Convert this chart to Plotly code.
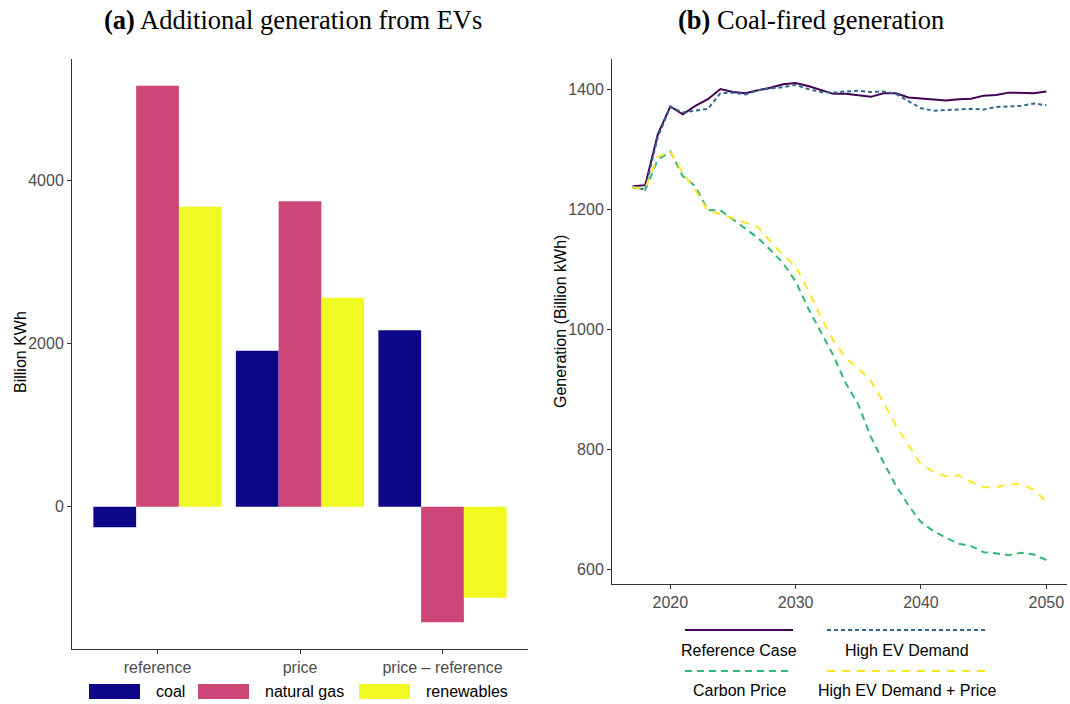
import plotly.graph_objects as go

# ---------------- data ----------------
categories = ["reference", "price", "price \u2013 reference"]
coal = [-249, 1914, 2163]
natural_gas = [5159, 3745, -1414]
renewables = [3677, 2563, -1114]

years = list(range(2017, 2051))
reference_case = [1238, 1240, 1324, 1371, 1358, 1372, 1383, 1400, 1395, 1393, 1398, 1402, 1408, 1410,
                  1405, 1399, 1392, 1392, 1389, 1387, 1393, 1393, 1386, 1384, 1382, 1381, 1383, 1384,
                  1389, 1390, 1394, 1393, 1393, 1396]
high_ev_demand = [1236, 1233, 1320, 1370, 1361, 1364, 1367, 1393, 1394, 1391, 1398, 1401, 1403, 1407,
                  1400, 1395, 1394, 1396, 1397, 1395, 1396, 1392, 1380, 1368, 1364, 1365, 1367, 1367,
                  1366, 1370, 1371, 1372, 1376, 1373]
carbon_price = [1237, 1232, 1282, 1296, 1255, 1238, 1198, 1198, 1183, 1168, 1152, 1132, 1110, 1080,
                1035, 996, 957, 910, 875, 821, 779, 740, 707, 679, 664, 653, 643, 639,
                629, 627, 624, 628, 625, 616]
high_ev_price = [1236, 1235, 1287, 1296, 1260, 1232, 1197, 1192, 1185, 1178, 1170, 1146, 1124, 1105,
                 1065, 1021, 982, 952, 935, 914, 879, 840, 807, 775, 763, 755, 757, 746,
                 737, 737, 742, 742, 733, 713]

bar_series = [("coal", coal, "#0D0887"),
              ("natural gas", natural_gas, "#CC4778"),
              ("renewables", renewables, "#F0F921")]
line_series = [("Reference Case", reference_case, "#440154", "solid"),
               ("High EV Demand", high_ev_demand, "#31688E", "4px,3px"),
               ("Carbon Price", carbon_price, "#35B779", "7px,5px"),
               ("High EV Demand + Price", high_ev_price, "#FDE725", "8px,7px")]

W, H = 1070, 704
def px(x):
    return x / W
def py(y):
    return 1 - y / H

fig = go.Figure()
for name, vals, col in bar_series:
    fig.add_trace(go.Bar(x=categories, y=vals, name=name, marker=dict(color=col, line=dict(width=0)),
                         xaxis="x", yaxis="y", showlegend=False))
for name, vals, col, dash in line_series:
    fig.add_trace(go.Scatter(x=years, y=vals, name=name, mode="lines",
                             line=dict(color=col, width=2, dash=dash),
                             xaxis="x2", yaxis="y2", showlegend=False))

tickfont = dict(family="Liberation Sans, Arial, sans-serif", size=16, color="#4D4D4D")
axcommon = dict(showgrid=False, zeroline=False, showline=True, linecolor="#333333", linewidth=1,
                ticks="outside", ticklen=4, tickcolor="#333333", tickwidth=1, tickfont=tickfont)

fig.update_layout(
    width=W, height=H,
    margin=dict(l=0, r=0, t=0, b=0),
    paper_bgcolor="white", plot_bgcolor="white",
    barmode="group", bargap=0.1, bargroupgap=0,
    xaxis=dict(domain=[px(72), px(528)], anchor="y", type="category", range=[-0.6, 2.6], **axcommon),
    yaxis=dict(domain=[py(649), py(59)], anchor="x", range=[-1742, 5488],
               tickvals=[0, 2000, 4000], **axcommon),
    xaxis2=dict(domain=[px(612), px(1067)], anchor="y2", range=[2015.35, 2051.65],
                tickvals=[2020, 2030, 2040, 2050], **axcommon),
    yaxis2=dict(domain=[py(584), py(59)], anchor="x2", range=[576, 1450],
                tickvals=[600, 800, 1000, 1200, 1400], **axcommon),
    showlegend=False,
)

serif = "Liberation Serif, Times New Roman, serif"
sans = "Liberation Sans, Arial, sans-serif"
ann = []
ann.append(dict(text="<b>(a)</b> Additional generation from EVs", x=px(293), y=py(20), xref="paper", yref="paper",
                showarrow=False, font=dict(family=serif, size=26.5, color="black"), xanchor="center", yanchor="middle"))
ann.append(dict(text="<b>(b)</b> Coal-fired generation", x=px(811), y=py(20), xref="paper", yref="paper",
                showarrow=False, font=dict(family=serif, size=26.5, color="black"), xanchor="center", yanchor="middle"))
ann.append(dict(text="Billion KWh", x=px(20), y=py(352), xref="paper", yref="paper", textangle=-90,
                showarrow=False, font=dict(family=sans, size=16, color="black"), xanchor="center", yanchor="middle"))
ann.append(dict(text="Generation (Billion kWh)", x=px(560), y=py(322), xref="paper", yref="paper", textangle=-90,
                showarrow=False, font=dict(family=sans, size=16, color="black"), xanchor="center", yanchor="middle"))

shapes = []
# bar legend
bar_key_x = [89, 198, 359]
for (name, vals, col), kx in zip(bar_series, bar_key_x):
    shapes.append(dict(type="rect", xref="paper", yref="paper", x0=px(kx), x1=px(kx + 51),
                       y0=py(699), y1=py(684), fillcolor=col, line=dict(width=0)))
    ann.append(dict(text=name, x=px(kx + 65), y=py(691), xref="paper", yref="paper", showarrow=False,
                    font=dict(family=sans, size=16, color="black"), xanchor="left", yanchor="middle"))

# line legend
key_pos = [(685, 793, 630, 739, 650), (827, 987, 630, 907, 650),
           (685, 793, 671, 739, 690), (827, 987, 671, 907, 690)]
for (name, vals, col, dash), (x0, x1, yl, tx, ty) in zip(line_series, key_pos):
    shapes.append(dict(type="line", xref="paper", yref="paper", x0=px(x0), x1=px(x1), y0=py(yl), y1=py(yl),
                       line=dict(color=col, width=2, dash=dash)))
    ann.append(dict(text=name, x=px(tx), y=py(ty), xref="paper", yref="paper", showarrow=False,
                    font=dict(family=sans, size=16, color="black"), xanchor="center", yanchor="middle"))

fig.update_layout(annotations=ann, shapes=shapes)
fig.write_html("out.html")
